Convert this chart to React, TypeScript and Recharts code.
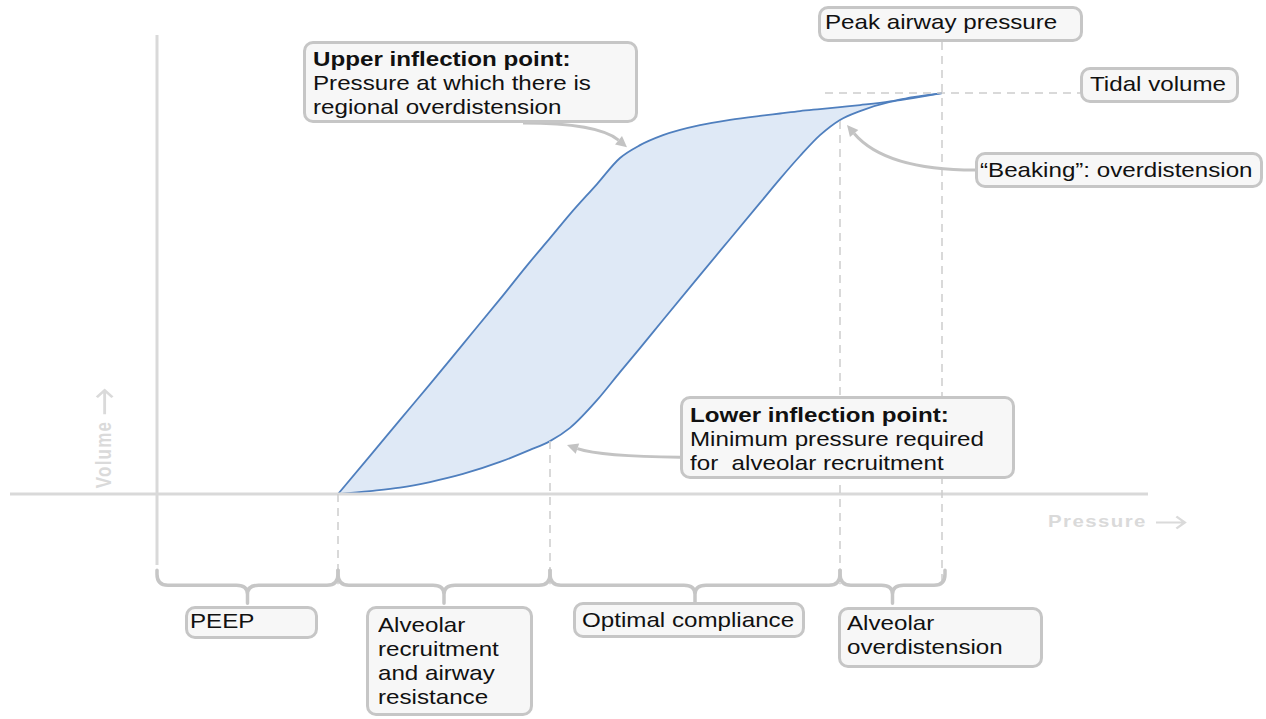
import { AreaChart, Area, XAxis, YAxis, ReferenceLine } from 'recharts'

const W = 1266
const H = 719

// pressure samples shared by both limbs of the loop (arbitrary units, 0 = origin)
const pressure = [
  18.1, 21.3, 24.3, 27.3, 30.6, 34.3, 37.3, 39.3, 41.3, 44.0, 46.3, 48.3,
  50.6, 54.3, 57.3, 60.3, 62.3, 64.3, 66.3, 68.3, 70.3, 73.3, 75.6, 78.5,
]
// inflation limb (lower curve), % of tidal volume
const inflation = [
  0, 0.75, 1.6, 3.0, 5.0, 8.0, 11.0, 13.2, 16.5, 23.4, 30.4, 36.4, 43.4,
  54.6, 63.6, 72.6, 78.6, 84.3, 89.5, 93.3, 95.5, 97.8, 98.75, 100,
]
// deflation limb (upper curve)
const deflation = [
  0, 9.5, 18.5, 27.4, 37.4, 48.6, 57.9, 63.8, 69.8, 77.3, 83.8, 87.0, 89.5,
  92.0, 93.3, 94.3, 94.9, 95.5, 96.0, 96.5, 97.0, 97.9, 99.0, 100,
]

// key points on the loop
const peep = 18.1
const lowerInflection = { p: 39.3, v: 13.2 }
const upperInflection = { p: 47.0, v: 86.5 }
const beaking = { p: 68.3, v: 93.0 }
const peakPressure = 78.5
const tidalVolume = 100

const zoneBounds = [0, peep, lowerInflection.p, beaking.p, 78.8]
const zoneLabels = [
  'PEEP',
  'Alveolar\nrecruitment\nand airway\nresistance',
  'Optimal compliance',
  'Alveolar\noverdistension',
]

const loopData = pressure.map((p, i) => ({ p, range: [inflation[i], deflation[i]] }))

const GRID = '#d9d9d9'
const LABEL = '#dadada'
const DASH = '#cdcdcd'
const NOTE = '#c3c3c3'
const FONT = 'Arial, "Liberation Sans", sans-serif'

const braceShape = (props: any) => {
  const { x1, x2, y1 } = props
  const yh = y1 + 15
  const yt = y1 + 33
  const m = (x1 + x2) / 2
  const r = 11
  const d =
    `M${x1},${y1} L${x1},${y1 + 4} Q${x1},${yh} ${x1 + r},${yh} L${m - r},${yh} ` +
    `Q${m},${yh} ${m},${yh + 9} L${m},${yt} M${m},${yh + 9} Q${m},${yh} ${m + r},${yh} ` +
    `L${x2 - r},${yh} Q${x2},${yh} ${x2},${y1 + 4} L${x2},${y1}`
  return <path d={d} fill="none" stroke="#c6c6c6" strokeWidth={3.5} strokeLinecap="round" />
}

const arrowShape = (t: number, s: number) => (props: any) => {
  const { x1, y1, x2, y2 } = props
  const cx = x1 + (x2 - x1) * t
  const cy = y1 + (y2 - y1) * s
  const a = Math.atan2(y2 - cy, x2 - cx)
  const len = 11
  const half = 5.5
  const bx = x2 - Math.cos(a) * len
  const by = y2 - Math.sin(a) * len
  const head = `${x2},${y2} ${bx - Math.sin(a) * half},${by + Math.cos(a) * half} ${bx + Math.sin(a) * half},${by - Math.cos(a) * half}`
  return (
    <g>
      <path d={`M${x1},${y1} Q${cx},${cy} ${bx},${by}`} fill="none" stroke={NOTE} strokeWidth={3} />
      <polygon points={head} fill={NOTE} />
    </g>
  )
}

const AxisArrow = () => (
  <svg width={27} height={15} style={{ display: 'block' }}>
    <path d="M1,7.5 L25,7.5 M18,1.5 L25,7.5 L18,13.5" fill="none" stroke={LABEL} strokeWidth={2.2} />
  </svg>
)

type NoteProps = {
  box: [number, number, number, number]
  pad: [number, number]
  title?: string
  text: string
}

const Note = ({ box, pad, title, text }: NoteProps) => (
  <div
    style={{
      position: 'absolute',
      left: box[0],
      top: box[1],
      width: box[2],
      height: box[3],
      boxSizing: 'border-box',
      border: '3px solid #c6c6c6',
      borderRadius: 10,
      background: '#f7f7f7',
    }}
  >
    <div
      style={{
        position: 'absolute',
        left: pad[0],
        top: pad[1],
        transform: 'scaleX(1.15)',
        transformOrigin: 'left top',
        fontFamily: FONT,
        fontSize: 21,
        lineHeight: '24px',
        color: '#111',
        whiteSpace: 'pre',
      }}
    >
      {title ? <div style={{ fontWeight: 'bold' }}>{title}</div> : null}
      {text}
    </div>
  </div>
)

const zoneBoxes: { box: [number, number, number, number]; pad: [number, number] }[] = [
  { box: [185, 606, 133, 33], pad: [2, 0] },
  { box: [366, 606, 167, 110], pad: [9, 4] },
  { box: [573, 602, 232, 36], pad: [6, 3] },
  { box: [838, 607, 205, 61], pad: [6, 1] },
]

const axisLabelStyle = {
  fontFamily: FONT,
  fontSize: 17,
  fontWeight: 'bold' as const,
  letterSpacing: 1.2,
  color: LABEL,
  whiteSpace: 'pre' as const,
}

export default function App() {
  return (
    <div style={{ position: 'absolute', left: 0, top: 0, width: W, height: H, background: '#fff' }}>
      <AreaChart width={W} height={H} data={loopData} margin={{ top: 0, right: 0, bottom: 0, left: 0 }}>
        <XAxis dataKey="p" type="number" domain={[-15.7, 110.9]} allowDataOverflow hide />
        <YAxis type="number" domain={[-56.1, 123.2]} allowDataOverflow hide />

        {/* axes */}
        <ReferenceLine segment={[{ x: 0, y: -17.7 }, { x: 0, y: 114.5 }]} stroke={GRID} strokeWidth={3} ifOverflow="visible" />
        <ReferenceLine segment={[{ x: -14.7, y: 0 }, { x: 99.1, y: 0 }]} stroke={GRID} strokeWidth={3} ifOverflow="visible" />

        {/* dashed guides */}
        <ReferenceLine segment={[{ x: peep, y: 0 }, { x: peep, y: -22.5 }]} stroke={DASH} strokeWidth={1.5} strokeDasharray="8 6" ifOverflow="visible" />
        <ReferenceLine segment={[{ x: lowerInflection.p, y: lowerInflection.v }, { x: lowerInflection.p, y: -22.5 }]} stroke={DASH} strokeWidth={1.5} strokeDasharray="8 6" ifOverflow="visible" />
        <ReferenceLine segment={[{ x: beaking.p, y: beaking.v }, { x: beaking.p, y: -22.5 }]} stroke={DASH} strokeWidth={1.5} strokeDasharray="8 6" ifOverflow="visible" />
        <ReferenceLine segment={[{ x: peakPressure, y: 112.7 }, { x: peakPressure, y: -22.5 }]} stroke={DASH} strokeWidth={1.5} strokeDasharray="8 6" ifOverflow="visible" />
        <ReferenceLine segment={[{ x: 66.8, y: tidalVolume }, { x: 92.3, y: tidalVolume }]} stroke={DASH} strokeWidth={1.5} strokeDasharray="8 6" ifOverflow="visible" />

        {/* zone braces */}
        {zoneLabels.map((_, i) => (
          <ReferenceLine
            key={i}
            segment={[{ x: zoneBounds[i], y: -19 }, { x: zoneBounds[i + 1], y: -19 }]}
            ifOverflow="visible"
            shape={braceShape}
          />
        ))}

        <Area
          dataKey="range"
          type="monotone"
          stroke="#4f7fbe"
          strokeWidth={1.8}
          fill="#dfe9f6"
          fillOpacity={1}
          dot={false}
          activeDot={false}
          isAnimationActive={false}
        />

        {/* callout arrows */}
        <ReferenceLine segment={[{ x: 36.6, y: 92.5 }, { x: upperInflection.p, y: upperInflection.v }]} ifOverflow="visible" shape={arrowShape(0.72, 0.0)} />
        <ReferenceLine segment={[{ x: 52.3, y: 9.2 }, { x: 41.0, y: 12.2 }]} ifOverflow="visible" shape={arrowShape(0.7, 0.05)} />
        <ReferenceLine segment={[{ x: 81.8, y: 80.8 }, { x: 69.0, y: 92.0 }]} ifOverflow="visible" shape={arrowShape(0.7, 0.0)} />
      </AreaChart>

      <div
        style={{
          position: 'absolute',
          left: 1048,
          top: 512,
          display: 'flex',
          alignItems: 'center',
          gap: 7,
          transform: 'scaleX(1.2)',
          transformOrigin: 'left center',
        }}
      >
        <span style={axisLabelStyle}>Pressure</span>
        <AxisArrow />
      </div>
      <div
        style={{
          position: 'absolute',
          left: 104,
          top: 438,
          display: 'flex',
          alignItems: 'center',
          gap: 6,
          transform: 'translate(-50%, -50%) rotate(-90deg) scaleY(1.3)',
        }}
      >
        <span style={axisLabelStyle}>Volume</span>
        <AxisArrow />
      </div>

      <Note box={[818, 6, 265, 36]} pad={[4, 1]} text="Peak airway pressure" />
      <Note box={[1080, 67, 159, 36]} pad={[7, 2]} text="Tidal volume" />
      <Note box={[975, 152, 288, 36]} pad={[2, 3]} text="“Beaking”: overdistension" />
      <Note
        box={[303, 41, 335, 82]}
        pad={[7, 3]}
        title="Upper inflection point:"
        text={'Pressure at which there is\nregional overdistension'}
      />
      <Note
        box={[680, 396, 335, 83]}
        pad={[7, 4]}
        title="Lower inflection point:"
        text={'Minimum pressure required\nfor  alveolar recruitment'}
      />
      {zoneLabels.map((label, i) => (
        <Note key={label} box={zoneBoxes[i].box} pad={zoneBoxes[i].pad} text={label} />
      ))}
    </div>
  )
}
